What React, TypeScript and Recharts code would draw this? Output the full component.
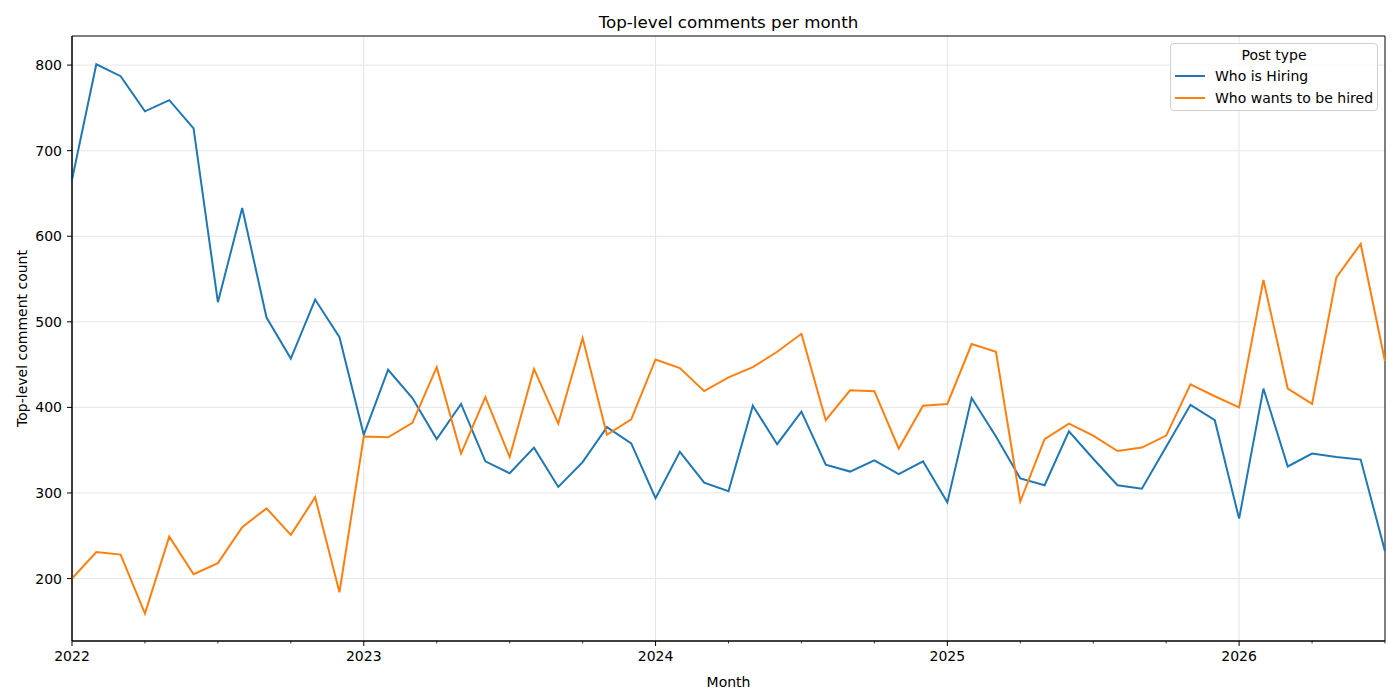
import { LineChart, Line, XAxis, YAxis, CartesianGrid, Legend, ReferenceArea } from "recharts";

// Monthly counts of top-level comments in the two HN threads
const months = [
  "2022-01", "2022-02", "2022-03", "2022-04", "2022-05", "2022-06", "2022-07", "2022-08", "2022-09", "2022-10", "2022-11", "2022-12",
  "2023-01", "2023-02", "2023-03", "2023-04", "2023-05", "2023-06", "2023-07", "2023-08", "2023-09", "2023-10", "2023-11", "2023-12",
  "2024-01", "2024-02", "2024-03", "2024-04", "2024-05", "2024-06", "2024-07", "2024-08", "2024-09", "2024-10", "2024-11", "2024-12",
  "2025-01", "2025-02", "2025-03", "2025-04", "2025-05", "2025-06", "2025-07", "2025-08", "2025-09", "2025-10", "2025-11", "2025-12",
  "2026-01", "2026-02", "2026-03", "2026-04", "2026-05", "2026-06", "2026-07",
];

const whoIsHiring = [
  666, 801, 787, 746, 759, 726, 523, 633, 505, 457, 526, 482,
  368, 444, 411, 363, 404, 337, 323, 353, 307, 336, 377, 358,
  294, 348, 312, 302, 402, 357, 395, 333, 325, 338, 322, 337,
  289, 411, 366, 317, 309, 372, 340, 309, 305, 354, 403, 385,
  270, 422, 331, 346, 342, 339, 232,
];

const wantsToBeHired = [
  200, 231, 228, 159, 249, 205, 218, 260, 282, 251, 295, 184,
  366, 365, 382, 447, 346, 412, 342, 445, 381, 481, 368, 386,
  456, 446, 419, 435, 447, 465, 486, 385, 420, 419, 352, 402,
  404, 474, 465, 290, 363, 381, 367, 349, 353, 367, 427, 413,
  400, 549, 422, 404, 552, 591, 454,
];

const yearStarts = ["2022-01", "2023-01", "2024-01", "2025-01", "2026-01"];
const quarterTicks = months.filter((m) => ["01", "04", "07", "10"].includes(m.slice(5)));
const yTicks = [200, 300, 400, 500, 600, 700, 800];
const yDomain = [127, 834];

const data = months.map((month, i) => ({
  month,
  hiring: whoIsHiring[i],
  hired: wantsToBeHired[i],
}));

const FONT = '"DejaVu Sans", Verdana, sans-serif';

// year ticks get a long tick + label, quarter ticks a short one
function MonthTick(props: any) {
  const { x, y, payload } = props;
  const major = String(payload.value).endsWith("-01");
  return (
    <g>
      <line x1={x} x2={x} y1={y} y2={y + (major ? 5 : 2.5)} stroke="#000" strokeWidth={major ? 1 : 0.8} />
      {major && (
        <text x={x} y={y + 10} dy="0.72em" textAnchor="middle" fontSize={14} fontFamily={FONT} fill="#000">
          {String(payload.value).slice(0, 4)}
        </text>
      )}
    </g>
  );
}

function PostTypeLegend(props: any) {
  const items = props.payload || [];
  return (
    <div
      style={{
        boxSizing: "border-box",
        width: 208,
        height: 68,
        border: "1px solid #d0d0d0",
        borderRadius: 4,
        background: "rgba(255,255,255,0.8)",
        fontFamily: FONT,
        fontSize: 14,
        color: "#000",
        paddingTop: 3,
        paddingLeft: 4,
      }}
    >
      <div style={{ textAlign: "center", lineHeight: "16px", marginBottom: 2, paddingRight: 4 }}>Post type</div>
      {items.map((it: any) => (
        <div key={it.value} style={{ display: "flex", alignItems: "center", height: 22 }}>
          <span style={{ display: "inline-block", width: 30, height: 2, background: it.color, marginRight: 10 }} />
          <span>{it.value}</span>
        </div>
      ))}
    </div>
  );
}

export default function App() {
  return (
    <div style={{ position: "absolute", left: 0, top: 0, width: 1400, height: 700, background: "#fff" }}>
      <div
        style={{
          position: "absolute",
          left: 72,
          width: 1313,
          top: 12,
          lineHeight: "20px",
          textAlign: "center",
          fontFamily: FONT,
          fontSize: 16.7,
          color: "#000",
        }}
      >
        Top-level comments per month
      </div>
      <LineChart width={1400} height={700} data={data} margin={{ top: 36, right: 15, bottom: 0, left: 0 }}>
        <CartesianGrid
          stroke="#e6e6e6"
          strokeWidth={1}
          verticalValues={yearStarts}
          horizontalValues={yTicks}
        />
        <XAxis
          dataKey="month"
          type="category"
          ticks={quarterTicks}
          interval={0}
          tick={<MonthTick />}
          tickLine={false}
          tickSize={0}
          tickMargin={0}
          height={59}
          axisLine={{ stroke: "#000", strokeWidth: 1 }}
          label={{
            content: (p: any) => {
              const vb = p.viewBox || { x: 72, y: 641, width: 1313, height: 59 };
              return (
                <text x={vb.x + vb.width / 2} y={vb.y + 36} dy="0.72em" textAnchor="middle" fontSize={14} fontFamily={FONT} fill="#000">
                  Month
                </text>
              );
            },
          }}
        />
        <YAxis
          type="number"
          domain={yDomain}
          ticks={yTicks}
          allowDataOverflow
          width={72}
          tickSize={5}
          tickMargin={5}
          tickLine={{ stroke: "#000", strokeWidth: 1 }}
          axisLine={{ stroke: "#000", strokeWidth: 1 }}
          tick={{ fontSize: 14, fontFamily: FONT, fill: "#000" }}
          label={{
            content: (p: any) => {
              const vb = p.viewBox || { x: 0, y: 36, width: 72, height: 605 };
              const cy = vb.y + vb.height / 2;
              return (
                <text
                  x={22}
                  y={cy}
                  transform={`rotate(-90, 22, ${cy})`}
                  textAnchor="middle"
                  dy="0.36em"
                  fontSize={14}
                  fontFamily={FONT}
                  fill="#000"
                >
                  Top-level comment count
                </text>
              );
            },
          }}
        />
        {/* axes frame */}
        <ReferenceArea
          x1={months[0]}
          x2={months[months.length - 1]}
          y1={yDomain[0]}
          y2={yDomain[1]}
          fill="none"
          fillOpacity={0}
          stroke="#000"
          strokeWidth={1}
          ifOverflow="visible"
        />
        <Legend
          layout="vertical"
          align="center"
          verticalAlign="middle"
          content={<PostTypeLegend />}
          wrapperStyle={{ left: 1170, top: 43, width: 208, height: 68, bottom: "auto" }}
        />
        <Line
          type="linear"
          dataKey="hiring"
          name="Who is Hiring"
          stroke="#1f77b4"
          strokeWidth={2}
          dot={false}
          isAnimationActive={false}
        />
        <Line
          type="linear"
          dataKey="hired"
          name="Who wants to be hired"
          stroke="#ff7f0e"
          strokeWidth={2}
          dot={false}
          isAnimationActive={false}
        />
      </LineChart>
    </div>
  );
}
